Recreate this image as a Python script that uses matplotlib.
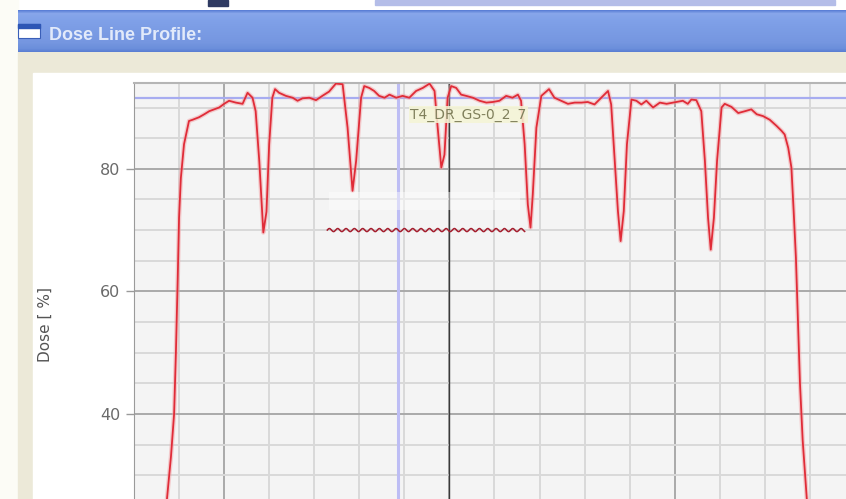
import numpy as np
import matplotlib
matplotlib.use("Agg")
import matplotlib.pyplot as plt
from matplotlib.patches import Rectangle
from matplotlib.ticker import MultipleLocator

# dose profile along the scan line: position [mm], dose [%]
pos_mm = [-64.0, -62.7, -61.8, -61.1, -60.7, -60.3, -60.0, -59.6, -58.9, -57.8,
          -57.0, -55.6, -54.4, -53.3, -52.2, -51.1, -50.0, -48.9, -47.4, -45.9,
          -44.8, -43.7, -43.0, -42.2, -41.3, -40.6, -40.0, -39.3, -38.7, -37.8,
          -36.3, -34.8, -33.7, -32.6, -31.1, -29.6, -28.2, -26.7, -25.2, -23.7,
          -22.6, -21.5, -20.7, -19.6, -18.9, -17.8, -16.7, -15.6, -14.4, -13.3,
          -11.8, -10.4, -8.9, -7.4, -5.9, -4.4, -3.3, -2.6, -1.8, -1.1,
          -0.4, 0.4, 1.5, 2.6, 3.7, 5.2, 6.7, 8.2, 9.6, 11.1,
          12.6, 14.0, 15.2, 15.9, 16.7, 17.4, 18.0, 18.5, 19.3, 20.4,
          22.1, 23.3, 24.8, 26.3, 27.8, 29.3, 30.7, 32.2, 33.3, 34.4,
          35.2, 35.9, 36.7, 37.4, 38.0, 38.7, 39.4, 40.4, 41.5, 42.6,
          43.7, 45.2, 46.7, 48.2, 49.6, 50.4, 51.8, 52.9, 53.7, 54.8,
          55.9, 56.7, 57.4, 58.0, 58.7, 59.4, 60.4, 61.1, 62.6, 64.1,
          65.6, 67.0, 68.2, 69.6, 71.1, 72.6, 73.7, 74.4, 75.2, 75.9,
          76.4, 76.9, 77.8, 78.4, 79.3, 80.5]
dose_pct = [10.0, 26.0, 33.0, 40.0, 50.0, 62.0, 72.0, 78.5, 84.0, 87.8,
            88.0, 88.4, 88.9, 89.4, 89.7, 90.0, 90.6, 91.1, 90.8, 90.6,
            92.4, 91.6, 89.4, 81.3, 69.6, 73.0, 84.0, 91.6, 93.0, 92.4,
            91.9, 91.6, 91.1, 91.5, 91.6, 91.2, 91.9, 92.6, 93.9, 93.8,
            86.7, 76.4, 81.3, 91.6, 93.5, 93.2, 92.7, 91.9, 91.6, 92.1,
            91.6, 91.9, 91.6, 92.7, 93.2, 93.9, 92.7, 86.7, 80.2, 82.3,
            91.6, 93.5, 93.2, 92.1, 91.9, 91.6, 91.1, 90.8, 90.9, 91.1,
            91.9, 91.6, 92.1, 91.1, 84.0, 74.2, 70.4, 75.8, 86.7, 91.9,
            93.0, 91.6, 91.1, 90.6, 90.8, 90.8, 90.9, 90.5, 91.3, 92.1,
            92.7, 90.5, 81.3, 73.1, 68.2, 73.1, 84.0, 91.3, 91.1, 90.5,
            91.1, 90.0, 90.8, 90.6, 90.8, 90.9, 91.1, 90.6, 91.3, 91.2,
            89.4, 81.3, 72.0, 66.8, 72.0, 81.3, 90.0, 90.6, 90.1, 89.1,
            89.4, 89.7, 88.9, 88.6, 88.0, 87.0, 86.2, 85.6, 83.4, 80.2,
            73.1, 65.5, 45.0, 35.7, 26.4, 10.0]

y_ticks = [40, 60, 80]
profile_name = "T4_DR_GS-0_2_7"
ref_dose = 91.6        # horizontal cursor [%]
cursor_blue = -11.5    # vertical cursors [mm]
cursor_black = 0.0

W, H = 846, 499
fig = plt.figure(figsize=(W / 100, H / 100), dpi=100)

# --- window frame, pixel coordinates (y down) ---
bg = fig.add_axes([0, 0, 1, 1], zorder=0)
bg.axis("off")
bg.add_patch(Rectangle((0, 0), W, H, color="white", zorder=0))
bg.add_patch(Rectangle((0, 0), 18, H, color="#fcfcf6", zorder=0.5))
bg.add_patch(Rectangle((18, 52), W - 18, H - 52, color="#ece9d8", zorder=0.5))
bg.add_patch(Rectangle((33, 73), W - 33, H - 73, color="white", zorder=0.6))
bg.add_patch(Rectangle((208, 0), 20, 6, color="#2f3a62", zorder=0.6))
bg.add_patch(Rectangle((375, 0), 460, 5, color="#b4bde8", zorder=0.6))

# title bar gradient
rows = np.arange(10, 52)
stops = [10, 13, 20, 42, 48, 51]
r = np.interp(rows, stops, [0.36, 0.53, 0.50, 0.46, 0.42, 0.36])
g = np.interp(rows, stops, [0.50, 0.65, 0.63, 0.59, 0.56, 0.50])
b = np.interp(rows, stops, [0.84, 0.92, 0.91, 0.88, 0.86, 0.83])
grad = np.stack([r, g, b], axis=-1)[:, None, :]
bg.imshow(grad, extent=(18, W, 52, 10), aspect="auto", interpolation="bilinear", zorder=2)
bg.add_patch(Rectangle((18, 24), 22, 14, facecolor="white", edgecolor="#3a5fb8", lw=0.8, zorder=3))
bg.add_patch(Rectangle((18, 24), 22, 4, color="#2d56b5", zorder=3.5))
bg.text(49, 40, "Dose Line Profile:", fontsize=13, fontweight="bold", zorder=4,
        color="#e2eafa", family=["Liberation Sans", "DejaVu Sans"], va="baseline")
bg.set_xlim(0, W)
bg.set_ylim(H, 0)

# --- profile chart ---
ax = fig.add_axes([134 / W, 1 - 659 / H, 766 / W, 576 / H], zorder=1)
ax.set_facecolor("#f4f4f4")
ax.set_xlim(-70, 100)
ax.set_ylim(0, 94)

ax.xaxis.set_major_locator(MultipleLocator(50))
ax.xaxis.set_minor_locator(MultipleLocator(10))
ax.set_yticks(y_ticks)
ax.yaxis.set_minor_locator(MultipleLocator(5))
ax.set_axisbelow(True)
ax.grid(which="major", color="#a9a9a9", lw=1.4)
ax.grid(which="minor", color="#d9d9d9", lw=1.4)

ax.tick_params(axis="x", which="both", length=0, labelbottom=False)
ax.tick_params(axis="y", which="major", length=6, width=1, color="#9a9a9a",
               pad=4, labelsize=11.5, labelcolor="#6a6a6a")
ax.tick_params(axis="y", which="minor", length=0)
for side in ("right", "bottom"):
    ax.spines[side].set_visible(False)
ax.spines["left"].set_color("#9a9a9a")
ax.spines["top"].set_color("#b5b5b5")
ax.spines["top"].set_linewidth(1.5)

# cursors
ax.axhline(ref_dose, color="#a7acf0", lw=1.6, zorder=2)
ax.axvline(cursor_blue, color="#bdbdf4", lw=2.2, zorder=2)
ax.axvline(cursor_black, color="#3a3a3a", lw=1.0, zorder=2)

# dose profile
ax.plot(pos_mm, dose_pct, color="#f2a0a4", lw=3.2, alpha=0.5, zorder=3)
ax.plot(pos_mm, dose_pct, color="#e02c38", lw=1.3, zorder=4)

ax.text(-8.7, 88.8, profile_name, fontsize=10, color="#80805c", va="center", ha="left",
        zorder=5, bbox=dict(facecolor="#f5f5d5", edgecolor="none", pad=1, alpha=0.85))

# name edit box with its spell-check underline
ax.add_patch(Rectangle((-26.7, 73.3), 42.3, 2.9, facecolor="white", alpha=0.45,
                       edgecolor="none", zorder=5))
xs = np.linspace(-27.1, 16.7, 400)
ax.plot(xs, 70 + 0.25 * np.sin(2 * np.pi * (xs + 27.1) / 1.85), color="#a51d2d", lw=1.1, zorder=5)

fig.text(45 / W, 1 - 325 / H, "Dose [ %]", rotation=90, ha="center", va="center",
         fontsize=11, color="#555555")

fig.savefig("out.png", dpi=100)
